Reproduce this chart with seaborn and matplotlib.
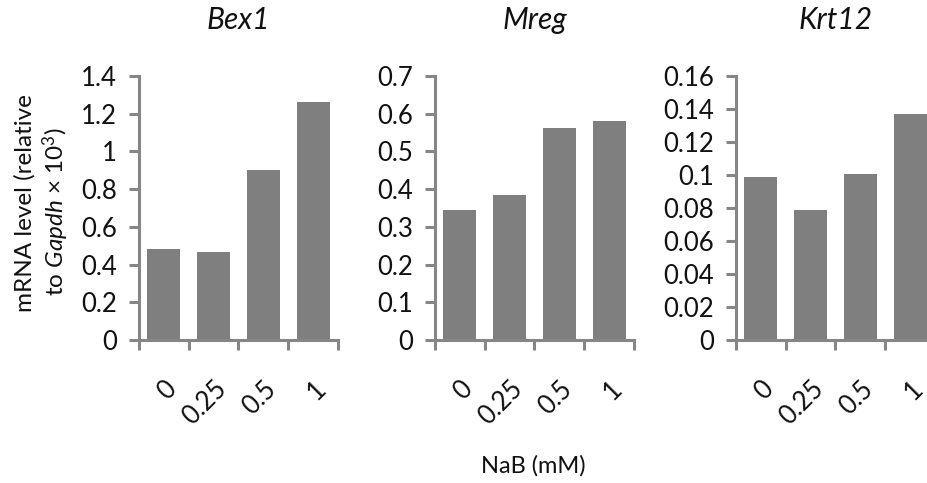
import matplotlib
matplotlib.use("Agg")
import matplotlib.pyplot as plt
import seaborn as sns
import pandas as pd
from matplotlib.ticker import FixedLocator

doses = ["0", "0.25", "0.5", "1"]
bex1 = [0.48, 0.465, 0.90, 1.264]
mreg = [0.345, 0.384, 0.561, 0.581]
krt12 = [0.099, 0.079, 0.1006, 0.137]
genes = ["Bex1", "Mreg", "Krt12"]
ymax = [1.4, 0.7, 0.16]
ystep = [0.2, 0.1, 0.02]
ylabels = [
    ["0", "0.2", "0.4", "0.6", "0.8", "1", "1.2", "1.4"],
    ["0", "0.1", "0.2", "0.3", "0.4", "0.5", "0.6", "0.7"],
    ["0", "0.02", "0.04", "0.06", "0.08", "0.1", "0.12", "0.14", "0.16"],
]

sns.set_style("white")
FONT = 'Lato'
plt.rcParams['font.family'] = [FONT, 'DejaVu Sans']
plt.rcParams['mathtext.fontset'] = 'custom'
plt.rcParams['mathtext.rm'] = FONT
plt.rcParams['mathtext.it'] = FONT + ':italic'

fig = plt.figure(figsize=(9.28, 4.83), dpi=100)
W, H = 928, 483
lefts = [139, 435, 736]
width = 199
bottom_px, top_px = 340, 76
axcol = "#868686"
barcol = "#7f7f7f"
txtcol = "#111111"

for i, (vals, g) in enumerate(zip([bex1, mreg, krt12], genes)):
    ax = fig.add_axes([lefts[i] / W, 1 - bottom_px / H, width / W, (bottom_px - top_px) / H])
    df = pd.DataFrame({"dose": doses, "val": vals})
    sns.barplot(data=df, x="dose", y="val", ax=ax, color=barcol, width=0.66,
                saturation=1, edgecolor=barcol, linewidth=0, order=doses)
    ax.set_xlim(-0.5, 3.5)
    ax.set_ylim(0, ymax[i])
    n = len(ylabels[i])
    ax.set_yticks([k * ystep[i] for k in range(n)])
    ax.set_yticklabels(ylabels[i], fontsize=18.5)
    ax.set_xticks(range(4))
    ax.set_xticklabels(doses, fontsize=18.5, rotation=45, ha='right', rotation_mode='anchor')
    ax.xaxis.set_minor_locator(FixedLocator([-0.5, 0.5, 1.5, 2.5, 3.5]))
    ax.tick_params(axis='x', which='major', length=0, pad=26, labelcolor=txtcol)
    ax.tick_params(axis='x', which='minor', length=7, width=2.2, color=axcol, direction='out', bottom=True)
    ax.tick_params(axis='y', which='major', length=7, width=2.2, color=axcol, direction='out', left=True, pad=9,
                   labelcolor=txtcol)
    for s in ["top", "right"]:
        ax.spines[s].set_visible(False)
    for s in ["left", "bottom"]:
        ax.spines[s].set_color(axcol)
        ax.spines[s].set_linewidth(2.2)
    ax.set_xlabel("")
    ax.set_ylabel("")
    ax.set_title(g, fontsize=21.5, style='italic', pad=34, color=txtcol)

fig.text(25 / W, 1 - 203 / H, "mRNA level (relative", rotation=90, ha='center', va='center', fontsize=17.5, color=txtcol)
fig.text(56 / W, 1 - 212 / H, "to $\\mathit{Gapdh}$ × 10$^{3}$)", rotation=90, ha='center', va='center', fontsize=17.5, color=txtcol)
fig.text(533 / W, 1 - 466 / H, "NaB (mM)", ha='center', va='center', fontsize=17, color=txtcol)

fig.savefig("out.png", dpi=100)
